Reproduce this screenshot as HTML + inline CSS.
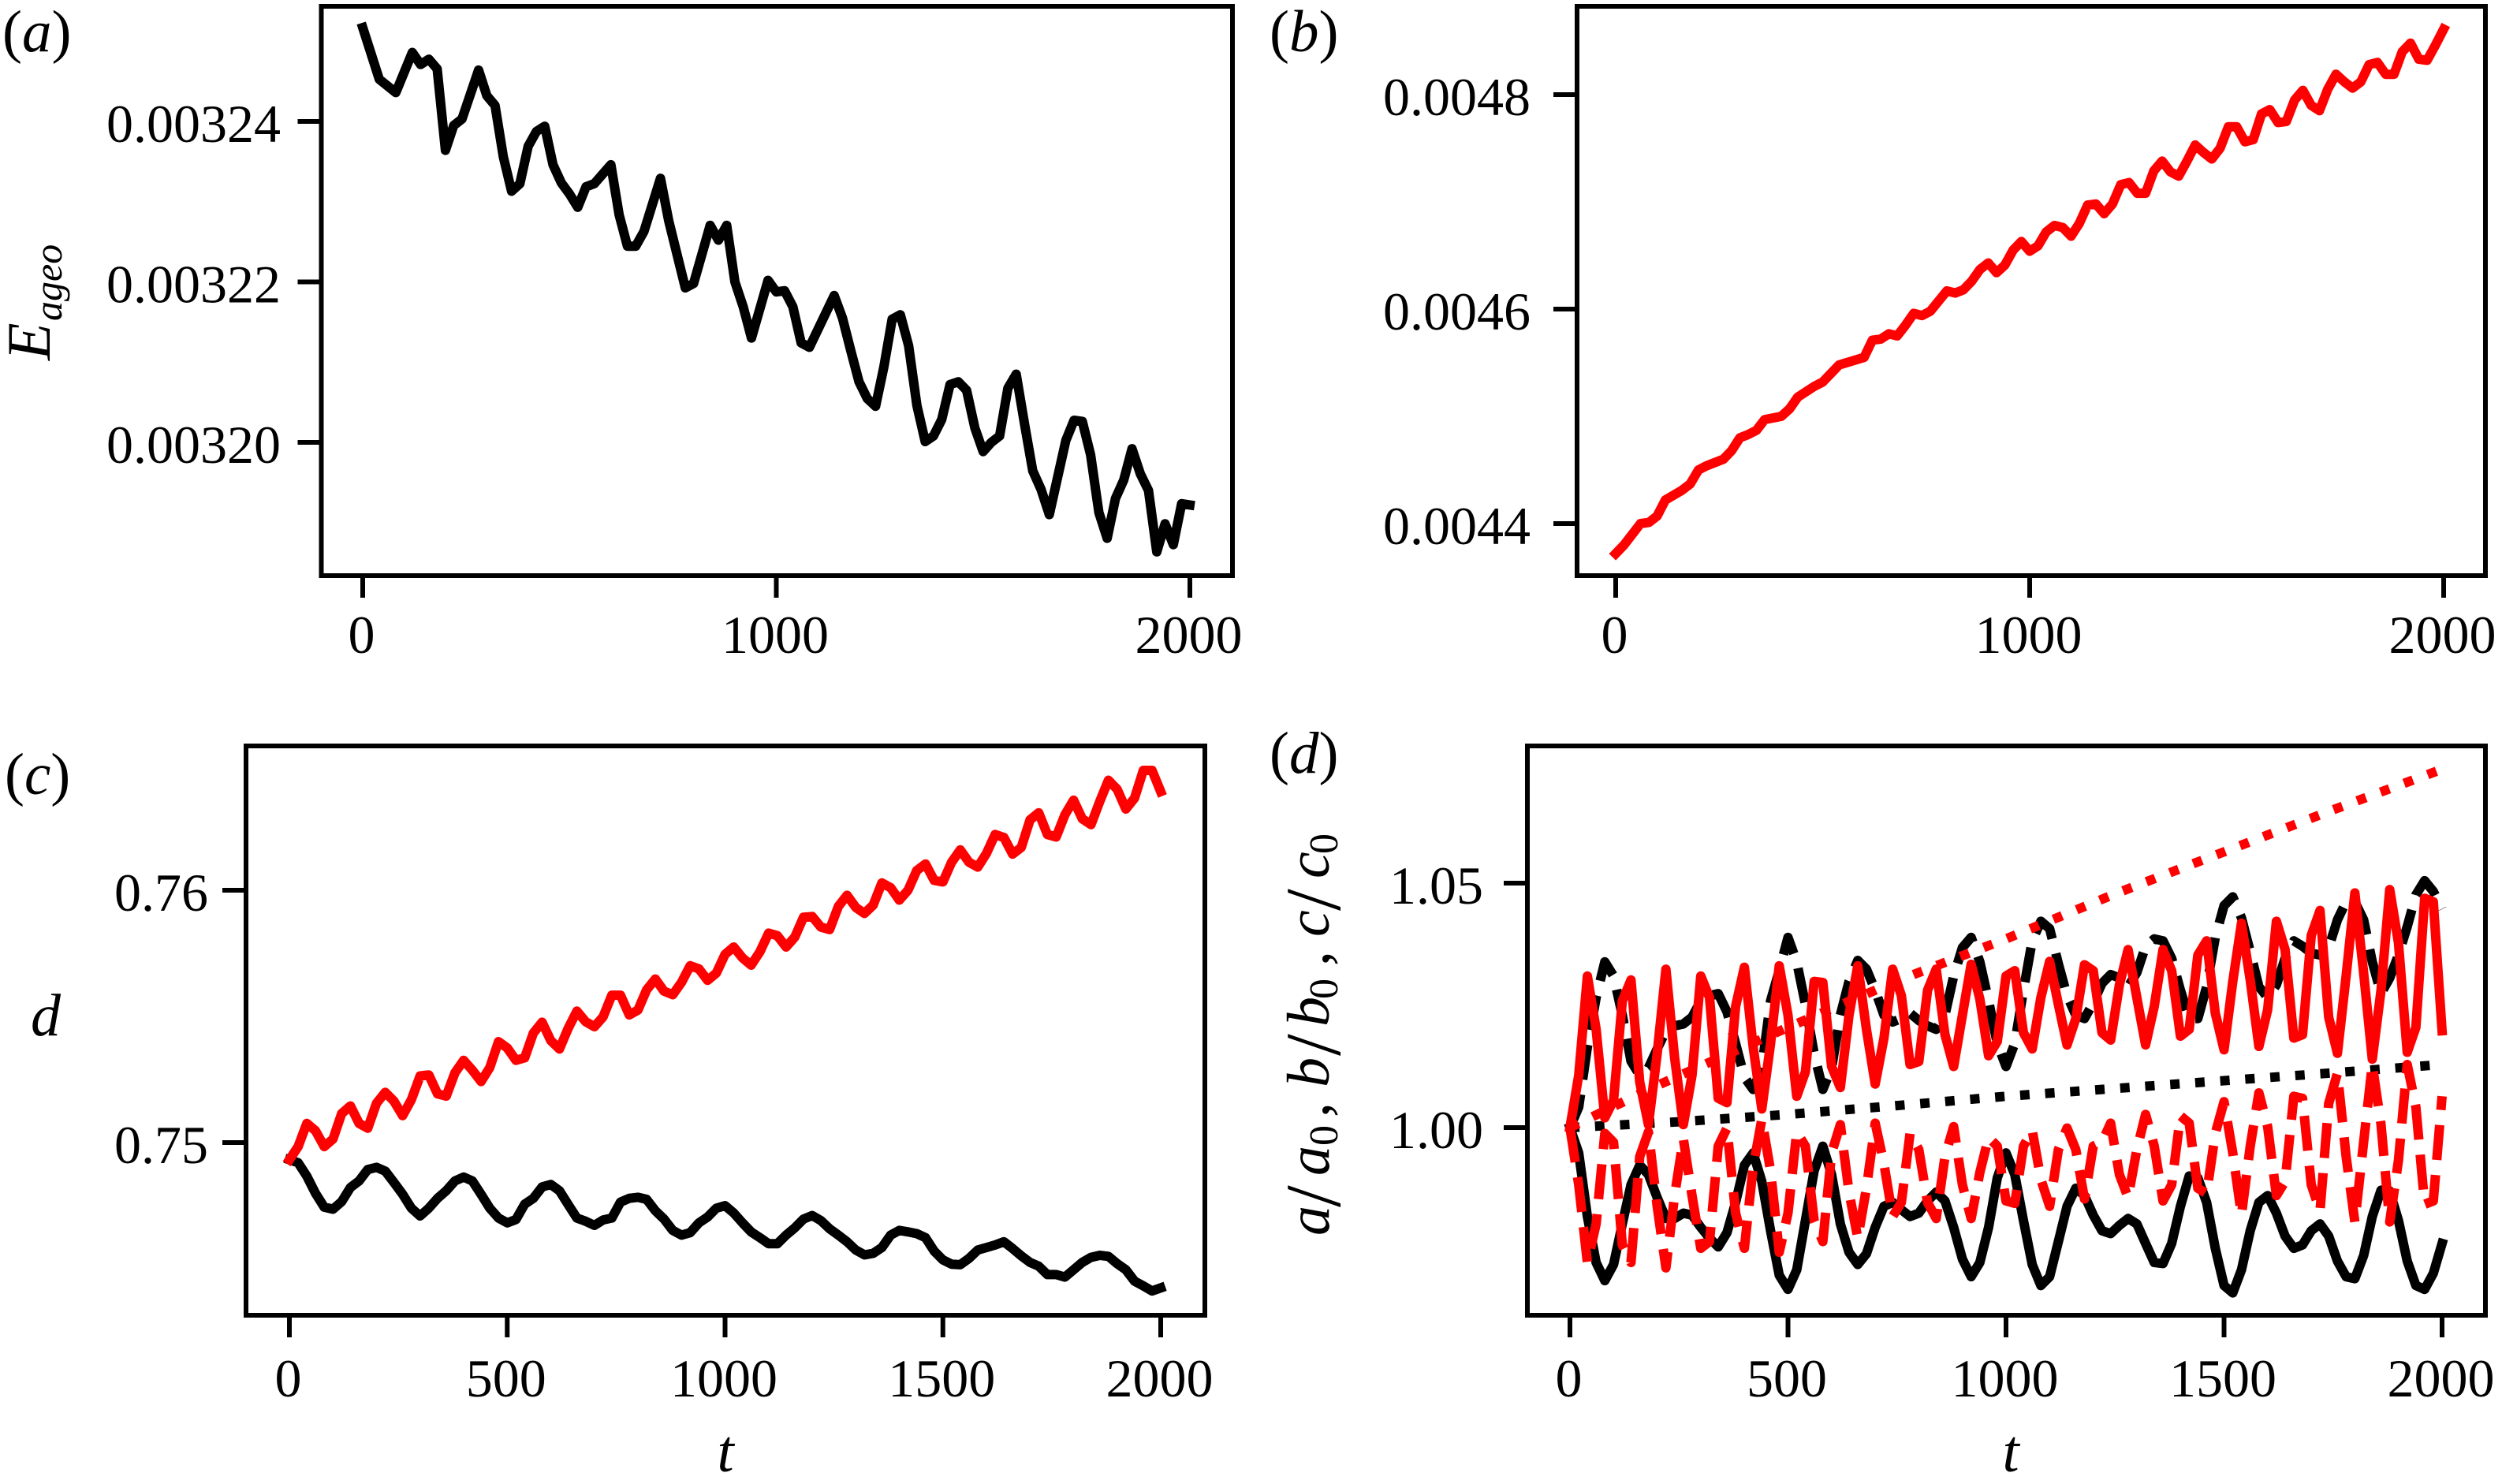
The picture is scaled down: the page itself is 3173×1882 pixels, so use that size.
<!DOCTYPE html>
<html lang="en">
<head>
<meta charset="utf-8">
<title>Ageostrophic energy and vortex shape time series</title>
<style>
html,body{margin:0;padding:0;background:#fff;overflow:hidden;}
svg{display:block;}
text{font-family:"Liberation Serif",serif;fill:#000;}
.tick-label{font-size:68px;}
.it{font-style:italic;}
</style>
</head>
<body>
<svg id="figure" width="3173" height="1882" viewBox="0 0 3173 1882" xmlns="http://www.w3.org/2000/svg">
  <rect x="0" y="0" width="3173" height="1882" fill="#fff"/>
  <g id="panel-a"></g>
  <g id="panel-b"></g>
  <g id="panel-c"></g>
  <g id="panel-d"></g>

  <text x="3" y="65" font-size="75">(<tspan class="it">a</tspan>)</text>
  <text x="1610" y="65" font-size="75">(<tspan class="it">b</tspan>)</text>
  <text x="6" y="1007" font-size="75">(<tspan class="it">c</tspan>)</text>
  <text x="1610" y="980" font-size="75">(<tspan class="it">d</tspan>)</text>

  <g transform="translate(63,457) rotate(-90)">
    <text class="it" x="0" y="0" font-size="78">E</text>
    <text class="it" x="50" y="15" font-size="50">ageo</text>
  </g>
  <text class="it" x="39" y="1313" font-size="76">d</text>
  <g transform="translate(1685,1567) rotate(-90)">
    <text class="it" font-size="76" y="0"><tspan x="0">a</tspan><tspan x="76">a</tspan><tspan x="188">b</tspan><tspan x="265">b</tspan><tspan x="379">c</tspan><tspan x="453">c</tspan></text>
    <text font-size="100" y="14"><tspan x="36">/</tspan><tspan x="228">/</tspan><tspan x="412">/</tspan></text>
    <text font-size="52" y="11"><tspan x="114">0</tspan><tspan x="300">0</tspan><tspan x="484">0</tspan></text>
    <text font-size="76" y="0"><tspan x="150">,</tspan><tspan x="342">,</tspan></text>
  </g>
  <text class="it" x="920" y="1866" font-size="76" text-anchor="middle">t</text>
  <text class="it" x="2550" y="1866" font-size="76" text-anchor="middle">t</text>
</svg>
<script>
// ---------- Panel (a): E_ageo, in units of 1e-6 ----------
const ageoTimes = [0,40,80,120,140,160,180,200,220,240,
  280,300,320,340,360,380,400,420,440,460,
  480,500,520,540,560,600,620,640,660,680,
  720,740,780,800,840,860,880,900,920,940,
  980,1000,1020,1040,1060,1080,1140,1160,1180,1200,
  1220,1240,1260,1280,1300,1320,1340,1360,1380,1400,
  1420,1440,1460,1480,1500,1520,1540,1560,1580,1600,
  1620,1640,1660,1700,1720,1740,1760,1780,1800,1820,
  1840,1860,1880,1900,1920,1940,1960,1980,2000];
const ageoEnergy = [3251.7,3245.25,3243.6,3248.6,3247.1,3247.75,3246.55,3236.4,3239.5,3240.3,
  3246.4,3243.2,3242.0,3235.6,3231.3,3232.25,3236.9,3238.75,3239.4,3234.6,
  3232.35,3230.95,3229.3,3231.85,3232.25,3234.6,3228.35,3224.45,3224.45,3226.3,
  3232.9,3227.6,3219.25,3219.8,3227.05,3225.2,3227.05,3220.0,3216.9,3213.0,
  3220.2,3218.75,3218.9,3216.9,3212.4,3211.85,3218.3,3215.5,3211.45,3207.55,
  3205.45,3204.5,3209.4,3215.35,3215.9,3212.05,3204.6,3200.1,3200.8,3202.85,
  3207.2,3207.55,3206.5,3201.8,3198.85,3200.0,3200.8,3206.75,3208.5,3202.35,
  3196.45,3194.15,3191.0,3200.25,3202.75,3202.6,3198.45,3191.25,3188.05,3193.0,
  3195.3,3199.2,3196.1,3194.0,3186.35,3189.85,3187.25,3192.35,3192.2];
const aXTicks = [0,1000,2000];
const aXTickLabels = ['0','1000','2000'];
const aYTicks = [3240,3220,3200];
const aYTickLabels = ['0.00324','0.00322','0.00320'];

// ---------- Panel (b): red energy series, in units of 1e-4 ----------
const redEnergyTimes = [0,20,60,80,100,120,160,180,200,220,
  260,280,300,320,340,360,400,420,440,480,
  500,520,540,600,620,640,660,680,700,720,
  740,760,800,820,840,860,880,900,920,940,
  960,980,1000,1020,1040,1060,1080,1100,1120,1140,
  1160,1180,1200,1220,1240,1260,1280,1300,1320,1340,
  1360,1380,1400,1420,1440,1460,1480,1500,1520,1540,
  1560,1580,1600,1620,1640,1660,1680,1700,1720,1740,
  1760,1780,1800,1820,1840,1860,1880,1900,1920,1940,
  1960,1980,2000];
const redEnergy = [43.72,43.80,44.0,44.01,44.07,44.22,44.31,44.37,44.50,44.54,
  44.60,44.68,44.80,44.83,44.87,44.97,45.0,45.07,45.18,45.28,
  45.32,45.40,45.48,45.55,45.71,45.72,45.77,45.75,45.85,45.96,
  45.94,45.98,46.17,46.15,46.18,46.26,46.37,46.43,46.34,46.41,
  46.55,46.63,46.54,46.59,46.72,46.78,46.76,46.68,46.80,46.97,
  46.98,46.89,46.98,47.16,47.18,47.08,47.08,47.29,47.38,47.28,
  47.24,47.38,47.53,47.46,47.40,47.50,47.70,47.70,47.56,47.58,
  47.82,47.86,47.74,47.75,47.95,48.04,47.90,47.85,48.05,48.19,
  48.12,48.06,48.12,48.28,48.30,48.19,48.19,48.40,48.48,48.33,
  48.32,48.46,48.61];
const bXTicks = [0,1000,2000];
const bXTickLabels = ['0','1000','2000'];
const bYTicks = [48,46,44];
const bYTickLabels = ['0.0048','0.0046','0.0044'];

// ---------- Panel (c): d, in units of 1e-3; samples every 20 time units ----------
const dRed = [749.32,749.84,750.76,750.47,749.84,750.14,751.15,751.45,750.76,750.57,
  751.56,751.99,751.64,751.07,751.70,752.64,752.68,751.93,751.84,752.77,
  753.26,752.87,752.42,752.97,754.0,753.75,753.26,753.36,754.34,754.77,
  754.04,753.71,754.53,755.21,754.79,754.59,754.98,755.84,755.84,755.06,
  755.25,756.05,756.48,756.0,755.86,756.35,757.01,756.88,756.43,756.72,
  757.46,757.75,757.32,757.03,757.56,758.30,758.20,757.75,758.14,758.93,
  758.96,758.54,758.44,759.36,759.80,759.32,759.08,759.41,760.29,760.10,
  759.61,760.0,760.78,761.04,760.39,760.33,761.11,761.60,761.11,760.92,
  761.46,762.21,762.09,761.43,761.70,762.79,763.07,762.21,762.11,762.99,
  763.57,762.83,762.60,763.52,764.36,764.0,763.22,763.65,764.75,764.75,
  763.91];
const dBlack = [749.32,749.20,748.67,747.99,747.44,747.36,747.66,748.22,748.48,748.93,
  749.02,748.87,748.42,747.95,747.40,747.09,747.40,747.79,748.09,748.48,
  748.63,748.48,747.95,747.40,747.01,746.82,746.95,747.56,747.79,748.24,
  748.34,748.09,747.54,747.01,746.88,746.72,746.93,747.01,747.64,747.79,
  747.83,747.75,747.30,746.97,746.52,746.33,746.43,746.82,747.05,747.40,
  747.50,747.21,746.82,746.46,746.23,745.99,745.99,746.33,746.62,746.97,
  747.11,746.91,746.58,746.33,746.07,745.74,745.55,745.61,745.84,746.33,
  746.52,746.46,746.39,746.23,745.70,745.35,745.18,745.16,745.41,745.74,
  745.84,745.94,746.07,745.80,745.51,745.25,745.10,744.77,744.77,744.67,
  744.96,745.25,745.45,745.53,745.49,745.20,744.96,744.51,744.32,744.12,
  744.24];
const cXTicks = [0,500,1000,1500,2000];
const cXTickLabels = ['0','500','1000','1500','2000'];
const cYTicks = [760,750];
const cYTickLabels = ['0.76','0.75'];

// ---------- Panel (d): axis ratios; samples every 20 time units ----------
const ratioSolidBlack = [1.0,.9948,.9818,.9724,.9687,.9720,.9803,.9883,.9923,.9904,
  .9857,.9814,.9814,.9825,.9821,.9796,.9774,.9756,.9785,.9847,
  .9923,.9948,.9890,.9789,.9698,.9669,.9709,.9810,.9912,.9962,
  .9904,.9803,.9745,.9720,.9742,.9796,.9839,.9847,.9832,.9818,
  .9825,.9850,.9868,.9850,.9796,.9731,.9695,.9724,.9796,.9897,
  .9948,.9904,.9810,.9720,.9677,.9695,.9767,.9839,.9876,.9861,
  .9821,.9789,.9783,.9800,.9814,.9803,.9763,.9724,.9722,.9763,
  .9839,.9901,.9897,.9847,.9753,.9677,.9662,.9709,.9789,.9847,
  .9861,.9825,.9778,.9753,.9760,.9789,.9803,.9778,.9727,.9695,
  .9691,.9738,.9818,.9872,.9870,.9810,.9727,.9677,.9669,.9702,.9763];
const ratioDashedBlack = [1.0,1.0042,1.0165,1.0266,1.0339,1.0310,1.0230,1.0136,1.0107,1.0122,
  1.0161,1.0198,1.0208,1.0212,1.0226,1.0259,1.0270,1.0274,1.0237,1.0172,
  1.0103,1.0078,1.0122,1.0259,1.0321,1.0389,1.0339,1.0252,1.0151,1.0078,
  1.0122,1.0230,1.0299,1.0342,1.0324,1.0281,1.0230,1.0216,1.0223,1.0234,
  1.0219,1.0208,1.0201,1.0230,1.0310,1.0368,1.0389,1.0339,1.0259,1.0172,
  1.0125,1.0172,1.0281,1.0382,1.0422,1.0407,1.0335,1.0270,1.0230,1.0223,
  1.0255,1.0295,1.0313,1.0306,1.0288,1.0317,1.0371,1.0386,1.0382,1.0346,
  1.0281,1.0223,1.0223,1.0288,1.0389,1.0454,1.0472,1.0429,1.0360,1.0288,
  1.0266,1.0292,1.0346,1.0382,1.0371,1.0357,1.0353,1.0368,1.0425,1.0462,
  1.0462,1.0425,1.0339,1.0274,1.0306,1.0353,1.0411,1.0476,1.0505,1.0483,1.0447];
const ratioSolidRed = [1.0,1.0107,1.0310,1.0201,1.0020,1.0056,1.0259,1.0302,1.0093,1.0006,
  1.0151,1.0324,1.0143,1.0006,1.0107,1.0310,1.0266,1.0060,1.0051,1.0248,
  1.0328,1.0165,1.0038,1.0172,1.0331,1.0230,1.0064,1.0114,1.0299,1.0297,
  1.0125,1.0082,1.0230,1.0331,1.0201,1.0089,1.0183,1.0324,1.0270,1.0129,
  1.0135,1.0281,1.0324,1.0190,1.0125,1.0230,1.0334,1.0263,1.0147,1.0176,
  1.0310,1.0321,1.0194,1.0161,1.0266,1.0340,1.0252,1.0169,1.0223,1.0333,
  1.0321,1.0194,1.0179,1.0292,1.0364,1.0266,1.0169,1.0248,1.0364,1.0321,
  1.0187,1.0201,1.0353,1.0382,1.0234,1.0159,1.0299,1.0418,1.0302,1.0166,
  1.0241,1.0422,1.0364,1.0183,1.0190,1.0393,1.0444,1.0226,1.0152,1.0310,
  1.0480,1.0317,1.0140,1.0281,1.0487,1.0378,1.0154,1.0205,1.0469,1.0462,1.0198];
const ratioDashedRed = [1.0,.9883,.9724,.9803,.9988,.9970,.9760,.9724,.9941,.9991,
  .9839,.9713,.9861,.9977,.9861,.9753,.9767,.9962,.9999,.9825,
  .9753,.9919,1.0017,.9912,.9745,.9825,.9991,.9962,.9810,.9767,
  .9948,1.0006,.9868,.9774,.9876,1.0009,.9926,.9818,.9847,.9988,
  .9955,.9847,.9814,.9941,1.0002,.9883,.9814,.9908,.9980,.9962,
  .9850,.9845,.9962,.9995,.9894,.9839,.9955,.9999,.9955,.9854,
  .9962,.9970,1.0009,.9904,.9857,.9955,1.0027,.9962,.9850,.9883,
  1.0024,1.0009,.9876,.9865,.9988,1.0053,.9948,.9821,.9962,1.0071,
  1.0002,.9861,.9890,1.0064,1.0060,.9883,.9829,1.0049,1.0111,.9941,
  .9807,.9970,1.0129,1.0006,.9807,.9933,1.0129,1.0042,.9843,.9850,1.0064];
const dottedBlackTimes = [0,250,500,750,1000,1250,1500,1750,2000];
const ratioDottedBlack = [1.0,1.0012,1.0027,1.0045,1.0064,1.0080,1.0096,1.0112,1.0129];
const dottedRedTimes = [0,200,500,750,1000,1250,1500,1750,2000];
const ratioDottedRed = [1.0,1.0086,1.0205,1.030,1.0386,1.0478,1.0564,1.0650,1.0733];
const dXTicks = [0,500,1000,1500,2000];
const dXTickLabels = ['0','500','1000','1500','2000'];
const dYTicks = [1.05,1.00];
const dYTickLabels = ['1.05','1.00'];

const SVG_NS = 'http://www.w3.org/2000/svg';
const LINE_W = 12;
const FRAME_W = 6;
const TICK_W = 6;
const sampleTimes = dRed.map(function (_, i) { return i * 20; });

function make(tag, parent, attrs) {
  const el = document.createElementNS(SVG_NS, tag);
  Object.keys(attrs).forEach(function (k) { el.setAttribute(k, attrs[k]); });
  parent.appendChild(el);
  return el;
}

// Linear axis scale built from two calibration anchors (data value -> pixel).
function scale(d0, p0, d1, p1) {
  return function (v) { return p0 + (v - d0) * (p1 - p0) / (d1 - d0); };
}

function drawAxes(g, box, xS, yS, xTicks, xLabels, yTicks, yLabels, yLabelRight, xBaseline) {
  const frame = make('rect', g, {x: box.l, y: box.t, width: box.r - box.l, height: box.b - box.t, fill: 'none', stroke: '#000', 'stroke-width': FRAME_W});
  
  
  xTicks.forEach(function (v, i) {
    const tick = make('line', g, {x1: xS(v), x2: xS(v), y1: box.b, y2: box.b + 28, stroke: '#000', 'stroke-width': TICK_W});
    
    
    const label = make('text', g, {x: xS(v) - 1.5, y: xBaseline, 'text-anchor': 'middle', class: 'tick-label'});
    label.textContent = xLabels[i];
    
    
  });
  yTicks.forEach(function (v, i) {
    const tick = make('line', g, {x1: box.l - 30, x2: box.l, y1: yS(v), y2: yS(v), stroke: '#000', 'stroke-width': TICK_W});
    
    
    const label = make('text', g, {x: yLabelRight, y: yS(v) + 26, 'text-anchor': 'end', class: 'tick-label'});
    label.textContent = yLabels[i];
    
    
  });
}

function seriesPoints(times, values, xS, yS) {
  return times.map(function (t, i) { return xS(t).toFixed(1) + ',' + yS(values[i]).toFixed(1); }).join(' ');
}

function drawSeries(g, times, values, xS, yS, color, style) {
  const attrs = {points: seriesPoints(times, values, xS, yS), fill: 'none', stroke: color, 'stroke-width': LINE_W, 'stroke-linejoin': 'round'};
  if (style === 'solid') { attrs['stroke-linecap'] = 'square'; }
  if (style === 'dashed') { attrs['stroke-dasharray'] = '44.4 19.2'; }
  if (style === 'dotted') { attrs['stroke-dasharray'] = '12 19.8'; }
  return make('polyline', g, attrs);
}

// Panel (a)
(function () {
  const g = document.getElementById('panel-a');
  const box = {l: 407.5, r: 1563, t: 8, b: 730};
  const xS = scale(0, 460, 2000, 1509);
  const yS = scale(3240, 154, 3200, 561);
  drawAxes(g, box, xS, yS, aXTicks, aXTickLabels, aYTicks, aYTickLabels, 356, 828);
  const line = drawSeries(g, ageoTimes, ageoEnergy, xS, yS, '#000', 'solid');
  
  
})();

// Panel (b)
(function () {
  const g = document.getElementById('panel-b');
  const box = {l: 2000, r: 3152, t: 8, b: 730};
  const xS = scale(0, 2049, 2000, 3099);
  const yS = scale(48, 120, 44, 664);
  drawAxes(g, box, xS, yS, bXTicks, bXTickLabels, bYTicks, bYTickLabels, 1941, 828);
  const line = drawSeries(g, redEnergyTimes, redEnergy, xS, yS, '#f00', 'solid');
  
  
})();

// Panel (c)
(function () {
  const g = document.getElementById('panel-c');
  const box = {l: 312, r: 1528, t: 946, b: 1668};
  const xS = scale(0, 367, 2000, 1472);
  const yS = scale(760, 1129, 750, 1449);
  drawAxes(g, box, xS, yS, cXTicks, cXTickLabels, cYTicks, cYTickLabels, 264, 1771);
  const black = drawSeries(g, sampleTimes, dBlack, xS, yS, '#000', 'solid');
  
  
  const red = drawSeries(g, sampleTimes, dRed, xS, yS, '#f00', 'solid');
  
  
})();

// Panel (d)
(function () {
  const g = document.getElementById('panel-d');
  const box = {l: 1937, r: 3152, t: 946, b: 1668};
  const xS = scale(0, 1991, 2000, 3097);
  const yS = scale(1.05, 1120, 1.00, 1430);
  drawAxes(g, box, xS, yS, dXTicks, dXTickLabels, dYTicks, dYTickLabels, 1881, 1771);
  const s1 = drawSeries(g, sampleTimes, ratioSolidBlack, xS, yS, '#000', 'solid');
  
  
  const s2 = drawSeries(g, sampleTimes, ratioDashedBlack, xS, yS, '#000', 'dashed');
  
  
  const s3 = drawSeries(g, dottedBlackTimes, ratioDottedBlack, xS, yS, '#000', 'dotted');
  
  
  const s4 = drawSeries(g, dottedRedTimes, ratioDottedRed, xS, yS, '#f00', 'dotted');
  
  
  const s5 = drawSeries(g, sampleTimes, ratioDashedRed, xS, yS, '#f00', 'dashed');
  
  
  const s6 = drawSeries(g, sampleTimes, ratioSolidRed, xS, yS, '#f00', 'solid');
  
  
})();
</script>
</body>
</html>
